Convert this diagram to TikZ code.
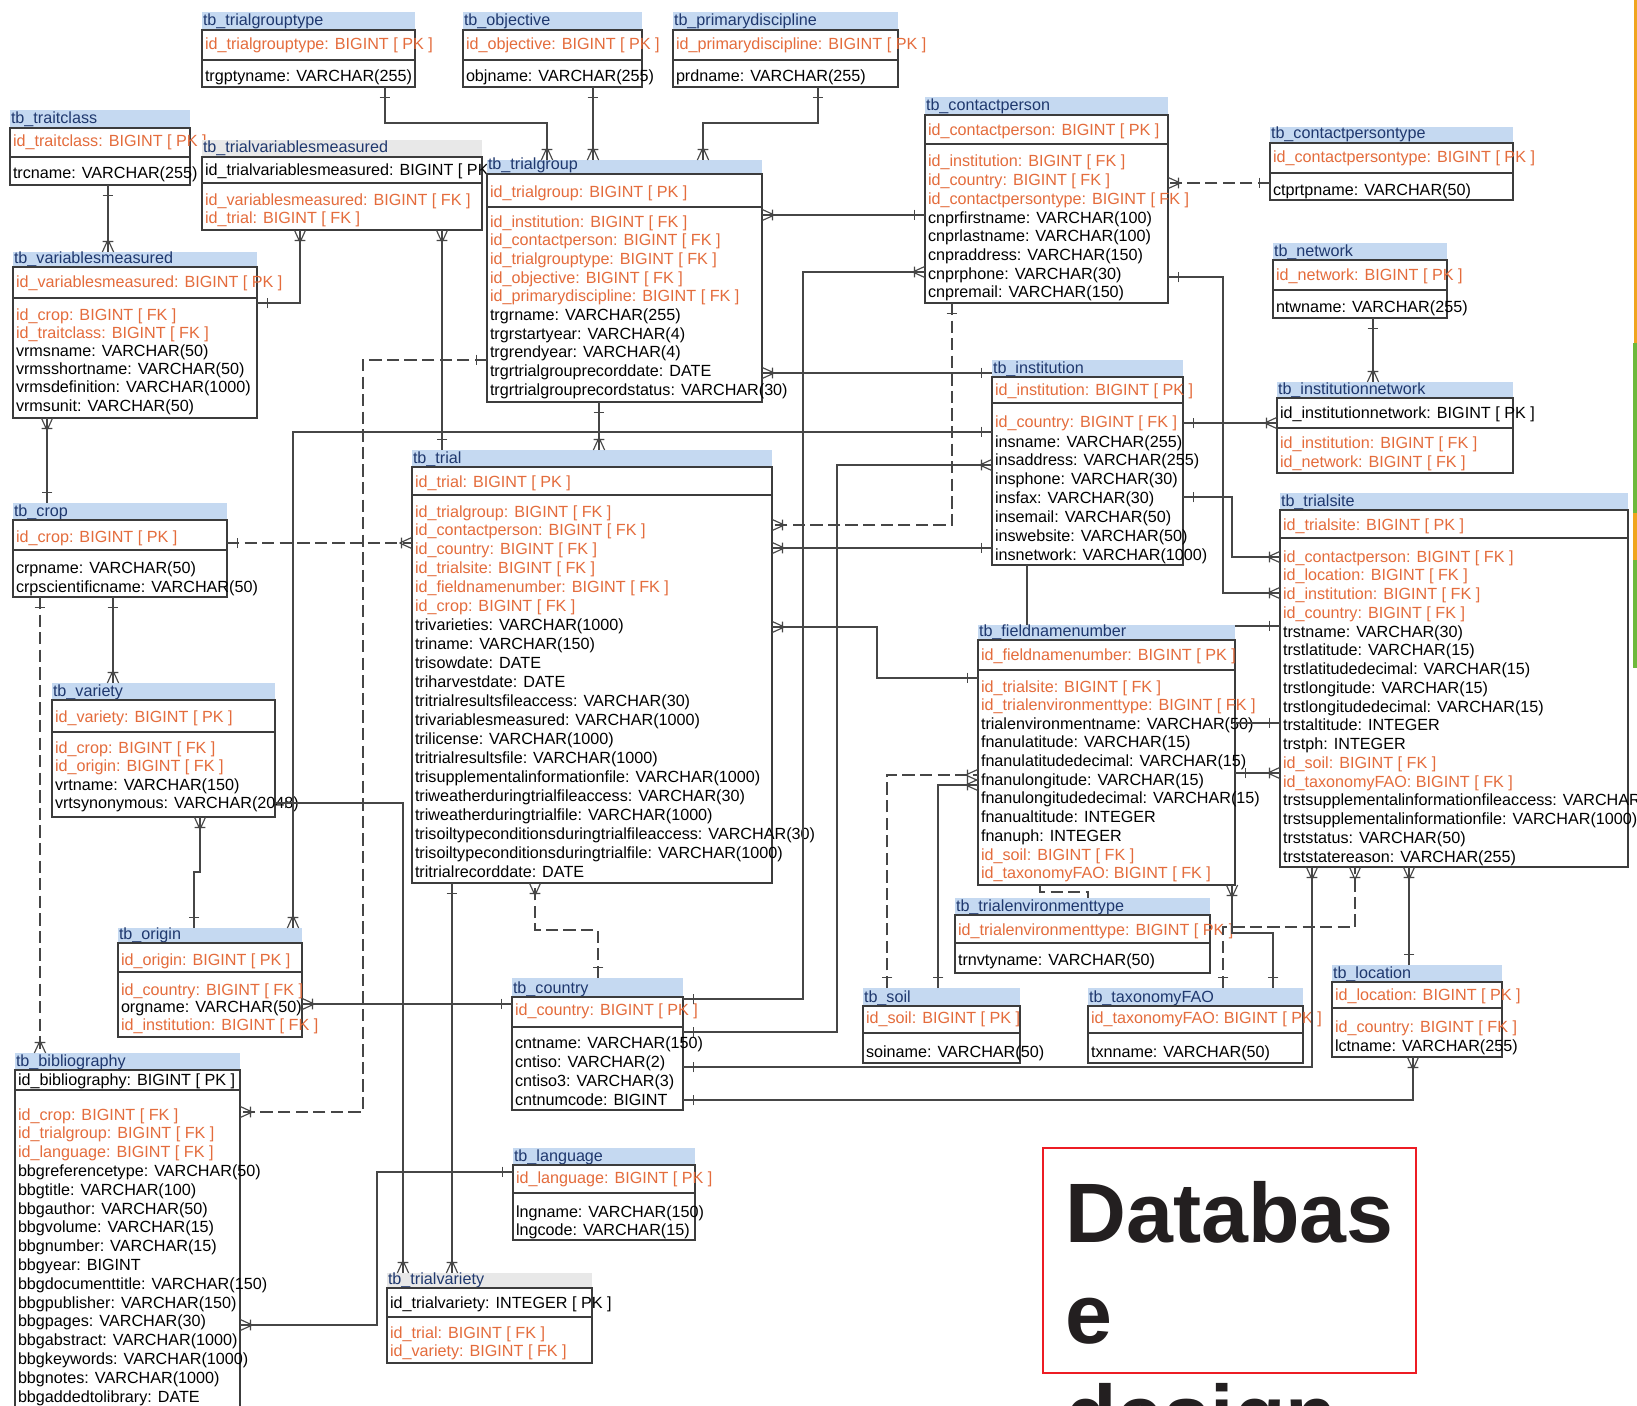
\documentclass[tikz,border=0pt]{standalone}
\usepackage{fontspec}
\setmainfont{Liberation Sans}
\usetikzlibrary{fit,decorations.markings}
\definecolor{hdr}{RGB}{197,217,241}
\definecolor{hdrg}{RGB}{232,232,232}
\definecolor{fk}{RGB}{228,108,60}
\definecolor{navy}{RGB}{31,56,110}
\definecolor{bline}{RGB}{60,60,60}
\definecolor{cline}{RGB}{70,70,70}
\definecolor{titlered}{RGB}{237,28,36}
\definecolor{titletext}{RGB}{35,31,32}
\definecolor{stripeor}{RGB}{240,165,30}
\definecolor{stripegr}{RGB}{110,185,60}
\tikzset{
  rowtxt/.style={inner sep=0pt, outer sep=0pt, anchor=base west, font=\fontsize{9.2}{11}\selectfont},
  hdrtxt/.style={inner sep=0pt, outer sep=0pt, anchor=base west, font=\fontsize{9.2}{11}\selectfont, text=navy},
  boxline/.style={draw=bline, line width=0.8pt},
  conn/.style={draw=cline, line width=0.65pt},
  dconn/.style={conn, dash pattern=on 7pt off 3pt},
  os/.style={postaction={decorate, decoration={markings, mark=at position 6pt with {\draw[cline, line width=0.65pt, solid] (0,-3pt) -- (0,3pt);}}}},
  me/.style={postaction={decorate, decoration={markings, mark=at position 1 with {\draw[cline, line width=0.65pt, solid] (-7pt,0) -- (0,3.2pt) (-7pt,0) -- (0,-3.2pt) (-6pt,-3pt) -- (-6pt,3pt);}}}},
  titletxt/.style={inner sep=0pt, anchor=base west, font=\fontsize{48}{57}\selectfont\bfseries, text=titletext},
}
\newcommand\ertable[9]{%
  \fill[#9] (#2,#3) rectangle (#4,#5);
  \fill[white] (#2,#5) rectangle (#4,#7);
  \node[hdrtxt] at ({#2+1},{#5-4}) {#8};
  \draw[boxline] (#2,#5) rectangle (#4,#7);
  \draw[boxline] (#2,#6) -- (#4,#6);
  \node[inner sep=0pt, outer sep=0pt, fit={(#2,#3) (#4,#7)}] (#1) {};
}
\newcommand\errows[5]{%
  \foreach \rowtext [count=\rowno from 0] in {#5} {\node[rowtxt, text=#4] at ({#1+3},{#2+#3*\rowno}) {\rowtext};}
}
\begin{document}
\begin{tikzpicture}[x=0.02cm, y=-0.02cm]
\useasboundingbox (0,0) rectangle (1637,1406);
\clip (0,0) rectangle (1637,1406);
\fill[white] (0,0) rectangle (1637,1406);
% right edge stripes
\fill[stripeor] (1634,0) rectangle (1637,343);
\fill[stripegr] (1633,343) rectangle (1637,513);
\fill[stripeor] (1633,513) rectangle (1637,560);
\fill[stripegr] (1633,560) rectangle (1637,668);

% ---------------- tables ----------------
\ertable{traitclass}{10}{110}{190}{128}{157}{185}{tb\_traitclass}{hdr}
\errows{10}{147}{19}{fk}{id\_traitclass: BIGINT [ PK ]}
\errows{10}{178}{19}{black}{trcname: VARCHAR(255)}

\ertable{trialgrouptype}{202}{12}{415}{30}{60}{87}{tb\_trialgrouptype}{hdr}
\errows{202}{50}{19}{fk}{id\_trialgrouptype: BIGINT [ PK ]}
\errows{202}{82}{19}{black}{trgptyname: VARCHAR(255)}

\ertable{objective}{463}{12}{642}{30}{60}{87}{tb\_objective}{hdr}
\errows{463}{50}{19}{fk}{id\_objective: BIGINT [ PK ]}
\errows{463}{82}{19}{black}{objname: VARCHAR(255)}

\ertable{primarydiscipline}{673}{12}{898}{30}{60}{87}{tb\_primarydiscipline}{hdr}
\errows{673}{50}{19}{fk}{id\_primarydiscipline: BIGINT [ PK ]}
\errows{673}{82}{19}{black}{prdname: VARCHAR(255)}

\ertable{trialvariablesmeasured}{202}{140}{482}{157}{183}{230}{tb\_trialvariablesmeasured}{hdrg}
\errows{202}{175}{18}{black}{id\_trialvariablesmeasured: BIGINT [ PK ]}
\errows{202}{205}{18}{fk}{id\_variablesmeasured: BIGINT [ FK ],id\_trial: BIGINT [ FK ]}

\ertable{variablesmeasured}{13}{252}{257}{267}{298}{418}{tb\_variablesmeasured}{hdr}
\errows{13}{287}{18.2}{fk}{id\_variablesmeasured: BIGINT [ PK ]}
\errows{13}{320}{18.2}{fk}{id\_crop: BIGINT [ FK ],id\_traitclass: BIGINT [ FK ]}
\errows{13}{356.4}{18.2}{black}{vrmsname: VARCHAR(50),vrmsshortname: VARCHAR(50),vrmsdefinition: VARCHAR(1000),vrmsunit: VARCHAR(50)}

\ertable{trialgroup}{487}{160}{762}{174}{207}{402}{tb\_trialgroup}{hdr}
\errows{487}{197}{18.7}{fk}{id\_trialgroup: BIGINT [ PK ]}
\errows{487}{227}{18.7}{fk}{id\_institution: BIGINT [ FK ],id\_contactperson: BIGINT [ FK ],id\_trialgrouptype: BIGINT [ FK ],id\_objective: BIGINT [ FK ],id\_primarydiscipline: BIGINT [ FK ]}
\errows{487}{320.5}{18.7}{black}{trgrname: VARCHAR(255),trgrstartyear: VARCHAR(4),trgrendyear: VARCHAR(4),trgrtrialgrouprecorddate: DATE,trgrtrialgrouprecordstatus: VARCHAR(30)}

\ertable{contactperson}{925}{97}{1168}{115}{144}{303}{tb\_contactperson}{hdr}
\errows{925}{135}{18.7}{fk}{id\_contactperson: BIGINT [ PK ]}
\errows{925}{167}{18.7}{fk}{id\_institution: BIGINT [ FK ],id\_country: BIGINT [ FK ],id\_contactpersontype: BIGINT [ FK ]}
\errows{925}{223.1}{18.7}{black}{cnprfirstname: VARCHAR(100),cnprlastname: VARCHAR(100),cnpraddress: VARCHAR(150),cnprphone: VARCHAR(30),cnpremail: VARCHAR(150)}

\ertable{contactpersontype}{1270}{127}{1513}{143}{173}{200}{tb\_contactpersontype}{hdr}
\errows{1270}{163}{19}{fk}{id\_contactpersontype: BIGINT [ PK ]}
\errows{1270}{195}{19}{black}{ctprtpname: VARCHAR(50)}

\ertable{network}{1273}{243}{1447}{260}{290}{318}{tb\_network}{hdr}
\errows{1273}{280}{19}{fk}{id\_network: BIGINT [ PK ]}
\errows{1273}{312}{19}{black}{ntwname: VARCHAR(255)}

\ertable{institutionnetwork}{1277}{382}{1513}{398}{428}{473}{tb\_institutionnetwork}{hdr}
\errows{1277}{418}{19}{black}{id\_institutionnetwork: BIGINT [ PK ]}
\errows{1277}{448}{19}{fk}{id\_institution: BIGINT [ FK ],id\_network: BIGINT [ FK ]}

\ertable{institution}{992}{360}{1183}{377}{403}{565}{tb\_institution}{hdr}
\errows{992}{395}{18.9}{fk}{id\_institution: BIGINT [ PK ]}
\errows{992}{427}{18.9}{fk}{id\_country: BIGINT [ FK ]}
\errows{992}{447}{18.9}{black}{insname: VARCHAR(255),insaddress: VARCHAR(255),insphone: VARCHAR(30),insfax: VARCHAR(30),insemail: VARCHAR(50),inswebsite: VARCHAR(50),insnetwork: VARCHAR(1000)}

\ertable{trial}{412}{450}{772}{467}{495}{883}{tb\_trial}{hdr}
\errows{412}{487}{18.95}{fk}{id\_trial: BIGINT [ PK ]}
\errows{412}{517}{18.95}{fk}{id\_trialgroup: BIGINT [ FK ],id\_contactperson: BIGINT [ FK ],id\_country: BIGINT [ FK ],id\_trialsite: BIGINT [ FK ],id\_fieldnamenumber: BIGINT [ FK ],id\_crop: BIGINT [ FK ]}
\errows{412}{630.7}{18.95}{black}{trivarieties: VARCHAR(1000),triname: VARCHAR(150),trisowdate: DATE,triharvestdate: DATE,tritrialresultsfileaccess: VARCHAR(30),trivariablesmeasured: VARCHAR(1000),trilicense: VARCHAR(1000),tritrialresultsfile: VARCHAR(1000),trisupplementalinformationfile: VARCHAR(1000),triweatherduringtrialfileaccess: VARCHAR(30),triweatherduringtrialfile: VARCHAR(1000),trisoiltypeconditionsduringtrialfileaccess: VARCHAR(30),trisoiltypeconditionsduringtrialfile: VARCHAR(1000),tritrialrecorddate: DATE}

\ertable{crop}{13}{503}{227}{520}{550}{597}{tb\_crop}{hdr}
\errows{13}{542}{19}{fk}{id\_crop: BIGINT [ PK ]}
\errows{13}{573}{19}{black}{crpname: VARCHAR(50),crpscientificname: VARCHAR(50)}

\ertable{variety}{52}{683}{275}{700}{732}{817}{tb\_variety}{hdr}
\errows{52}{722}{18.5}{fk}{id\_variety: BIGINT [ PK ]}
\errows{52}{753}{18.5}{fk}{id\_crop: BIGINT [ FK ],id\_origin: BIGINT [ FK ]}
\errows{52}{790}{18.5}{black}{vrtname: VARCHAR(150),vrtsynonymous: VARCHAR(2048)}

\ertable{origin}{118}{928}{302}{943}{972}{1037}{tb\_origin}{hdr}
\errows{118}{965}{17.5}{fk}{id\_origin: BIGINT [ PK ]}
\errows{118}{995}{17.5}{fk}{id\_country: BIGINT [ FK ]}
\errows{118}{1012.5}{17.5}{black}{orgname: VARCHAR(50)}
\errows{118}{1030}{17.5}{fk}{id\_institution: BIGINT [ FK ]}

\ertable{bibliography}{15}{1053}{240}{1070}{1090}{1440}{tb\_bibliography}{hdr}
\errows{15}{1085}{18.8}{black}{id\_bibliography: BIGINT [ PK ]}
\errows{15}{1120}{18.8}{fk}{id\_crop: BIGINT [ FK ],id\_trialgroup: BIGINT [ FK ],id\_language: BIGINT [ FK ]}
\errows{15}{1176.4}{18.8}{black}{bbgreferencetype: VARCHAR(50),bbgtitle: VARCHAR(100),bbgauthor: VARCHAR(50),bbgvolume: VARCHAR(15),bbgnumber: VARCHAR(15),bbgyear: BIGINT,bbgdocumenttitle: VARCHAR(150),bbgpublisher: VARCHAR(150),bbgpages: VARCHAR(30),bbgabstract: VARCHAR(1000),bbgkeywords: VARCHAR(1000),bbgnotes: VARCHAR(1000),bbgaddedtolibrary: DATE}

\ertable{trialvariety}{387}{1273}{592}{1288}{1317}{1363}{tb\_trialvariety}{hdrg}
\errows{387}{1308}{18.5}{black}{id\_trialvariety: INTEGER [ PK ]}
\errows{387}{1338}{18.5}{fk}{id\_trial: BIGINT [ FK ],id\_variety: BIGINT [ FK ]}

\ertable{country}{512}{978}{683}{997}{1027}{1110}{tb\_country}{hdr}
\errows{512}{1015}{19}{fk}{id\_country: BIGINT [ PK ]}
\errows{512}{1048}{19}{black}{cntname: VARCHAR(150),cntiso: VARCHAR(2),cntiso3: VARCHAR(3),cntnumcode: BIGINT}

\ertable{language}{513}{1148}{695}{1165}{1193}{1240}{tb\_language}{hdr}
\errows{513}{1183}{18.5}{fk}{id\_language: BIGINT [ PK ]}
\errows{513}{1217}{18.5}{black}{lngname: VARCHAR(150),lngcode: VARCHAR(15)}

\ertable{fieldnamenumber}{978}{625}{1235}{640}{670}{885}{tb\_fieldnamenumber}{hdr}
\errows{978}{660}{18.67}{fk}{id\_fieldnamenumber: BIGINT [ PK ]}
\errows{978}{692}{18.67}{fk}{id\_trialsite: BIGINT [ FK ],id\_trialenvironmenttype: BIGINT [ FK ]}
\errows{978}{729.3}{18.67}{black}{trialenvironmentname: VARCHAR(50),fnanulatitude: VARCHAR(15),fnanulatitudedecimal: VARCHAR(15),fnanulongitude: VARCHAR(15),fnanulongitudedecimal: VARCHAR(15),fnanualtitude: INTEGER,fnanuph: INTEGER}
\errows{978}{860}{18.67}{fk}{id\_soil: BIGINT [ FK ],id\_taxonomyFAO: BIGINT [ FK ]}

\ertable{trialsite}{1280}{493}{1628}{510}{538}{867}{tb\_trialsite}{hdr}
\errows{1280}{530}{18.75}{fk}{id\_trialsite: BIGINT [ PK ]}
\errows{1280}{562}{18.75}{fk}{id\_contactperson: BIGINT [ FK ],id\_location: BIGINT [ FK ],id\_institution: BIGINT [ FK ],id\_country: BIGINT [ FK ]}
\errows{1280}{637}{18.75}{black}{trstname: VARCHAR(30),trstlatitude: VARCHAR(15),trstlatitudedecimal: VARCHAR(15),trstlongitude: VARCHAR(15),trstlongitudedecimal: VARCHAR(15),trstaltitude: INTEGER,trstph: INTEGER}
\errows{1280}{768.25}{18.75}{fk}{id\_soil: BIGINT [ FK ],id\_taxonomyFAO: BIGINT [ FK ]}
\errows{1280}{805.75}{18.75}{black}{trstsupplementalinformationfileaccess: VARCHAR(30),trstsupplementalinformationfile: VARCHAR(1000),trststatus: VARCHAR(50),trststatereason: VARCHAR(255)}

\ertable{trialenvironmenttype}{955}{898}{1210}{915}{943}{973}{tb\_trialenvironmenttype}{hdr}
\errows{955}{935}{19}{fk}{id\_trialenvironmenttype: BIGINT [ PK ]}
\errows{955}{965}{19}{black}{trnvtyname: VARCHAR(50)}

\ertable{soil}{863}{988}{1020}{1006}{1033}{1063}{tb\_soil}{hdr}
\errows{863}{1023}{19}{fk}{id\_soil: BIGINT [ PK ]}
\errows{863}{1057}{19}{black}{soiname: VARCHAR(50)}

\ertable{taxonomyFAO}{1088}{988}{1303}{1006}{1033}{1063}{tb\_taxonomyFAO}{hdr}
\errows{1088}{1023}{19}{fk}{id\_taxonomyFAO: BIGINT [ PK ]}
\errows{1088}{1057}{19}{black}{txnname: VARCHAR(50)}

\ertable{location}{1332}{965}{1502}{982}{1008}{1057}{tb\_location}{hdr}
\errows{1332}{1000}{19}{fk}{id\_location: BIGINT [ PK ]}
\errows{1332}{1032}{19}{fk}{id\_country: BIGINT [ FK ]}
\errows{1332}{1051}{19}{black}{lctname: VARCHAR(255)}

% ---------------- connectors ----------------
\draw[conn,os,me] (385,0 |- trialgrouptype.south) -- (385,123) -- (547,123) -- (547,0 |- trialgroup.north);
\draw[conn,os,me] (593,0 |- objective.south) -- (593,0 |- trialgroup.north);
\draw[conn,os,me] (818,0 |- primarydiscipline.south) -- (818,123) -- (703,123) -- (703,0 |- trialgroup.north);
\draw[conn,os,me] (108,0 |- traitclass.south) -- (108,0 |- variablesmeasured.north);
\draw[conn,os,me] (variablesmeasured.east |- 0,303) -- (300,303) -- (300,0 |- trialvariablesmeasured.south);
\draw[conn,os,me] (442,0 |- trial.north) -- (442,0 |- trialvariablesmeasured.south);
\draw[conn,os,me] (599,0 |- trialgroup.south) -- (599,0 |- trial.north);
\draw[conn,os,me] (47,0 |- crop.north) -- (47,0 |- variablesmeasured.south);
\draw[dconn,os,me] (crop.east |- 0,543) -- (trial.west |- 0,543);
\draw[conn,os,me] (113,0 |- crop.south) -- (113,0 |- variety.north);
\draw[dconn,os,me] (40,0 |- crop.south) -- (40,0 |- bibliography.north);
\draw[conn,os,me] (194,0 |- origin.north) -- (194,872) -- (200,872) -- (200,0 |- variety.south);
\draw[conn,os,me] (variety.east |- 0,803) -- (403,803) -- (403,0 |- trialvariety.north);
\draw[conn,os,me] (institution.west |- 0,432) -- (293,432) -- (293,0 |- origin.north);
\draw[dconn,os,me] (trialgroup.west |- 0,360) -- (363,360) -- (363,1112) -- (bibliography.east |- 0,1112);
\draw[conn,os,me] (contactperson.west |- 0,215) -- (trialgroup.east |- 0,215);
\draw[conn,os,me] (institution.west |- 0,373) -- (trialgroup.east |- 0,373);
\draw[conn,os,me] (country.east |- 0,999) -- (803,999) -- (803,272) -- (contactperson.west |- 0,272);
\draw[conn,os,me] (institution.east |- 0,423) -- (institutionnetwork.west |- 0,423);
\draw[conn,os,me] (1373,0 |- network.south) -- (1373,0 |- institutionnetwork.north);
\draw[dconn,os,me] (contactpersontype.west |- 0,183) -- (contactperson.east |- 0,183);
\draw[conn,os,me] (contactperson.east |- 0,277) -- (1223,277) -- (1223,593) -- (trialsite.west |- 0,593);
\draw[conn,os,me] (institution.east |- 0,497) -- (1232,497) -- (1232,557) -- (trialsite.west |- 0,557);
\draw[dconn,os,me] (952,0 |- contactperson.south) -- (952,525) -- (trial.east |- 0,525);
\draw[conn,os,me] (institution.west |- 0,548) -- (trial.east |- 0,548);
\draw[conn,os,me] (fieldnamenumber.west |- 0,678) -- (877,678) -- (877,627) -- (trial.east |- 0,627);
\draw[conn,os,me] (country.east |- 0,1032) -- (837,1032) -- (837,465) -- (institution.west |- 0,465);
\draw[conn] (1027,0 |- institution.south) -- (1027,0 |- fieldnamenumber.north);
\draw[dconn,os,me] (887,0 |- soil.north) -- (887,775) -- (fieldnamenumber.west |- 0,775);
\draw[conn,os,me] (938,0 |- soil.north) -- (938,785) -- (fieldnamenumber.west |- 0,785);
\draw[conn,os,me] (country.east |- 0,1067) -- (1312,1067) -- (1312,0 |- trialsite.south);
\draw[dconn,os,me] (1223,0 |- taxonomyFAO.north) -- (1223,927) -- (1355,927) -- (1355,0 |- trialsite.south);
\draw[conn,os,me] (1273,0 |- taxonomyFAO.north) -- (1273,933) -- (1232,933) -- (1232,0 |- fieldnamenumber.south);
\draw[conn,os,me] (1409,0 |- location.north) -- (1409,0 |- trialsite.south);
\draw[conn,os,me] (country.east |- 0,1100) -- (1413,1100) -- (1413,0 |- location.south);
\draw[conn,os] (trialsite.west |- 0,723) -- (fieldnamenumber.east |- 0,723);
\draw[conn,os,me] (fieldnamenumber.east |- 0,773) -- (trialsite.west |- 0,773);
\draw[conn,os] (trialsite.west |- 0,626) -- (fieldnamenumber.east |- 0,626);
\draw[dconn] (1040,0 |- fieldnamenumber.south) -- (1040,892) -- (1088,892) -- (1088,0 |- trialenvironmenttype.north);
\draw[conn,os,me] (452,0 |- trial.south) -- (452,0 |- trialvariety.north);
\draw[dconn,os,me] (598,0 |- country.north) -- (598,930) -- (535,930) -- (535,0 |- trial.south);
\draw[conn,os,me] (country.west |- 0,1004) -- (origin.east |- 0,1004);
\draw[conn,os,me] (language.west |- 0,1172) -- (377,1172) -- (377,1325) -- (bibliography.east |- 0,1325);

% ---------------- title ----------------
\draw[titlered, line width=1.3pt] (1043,1148) rectangle (1416,1373);
\node[titletxt] (title1) at (1065,1242) {Databas};
\node[titletxt] (title2) at (1065,1343) {e};
\node[titletxt] (title3) at (1065,1444) {design};
\end{tikzpicture}
\end{document}
